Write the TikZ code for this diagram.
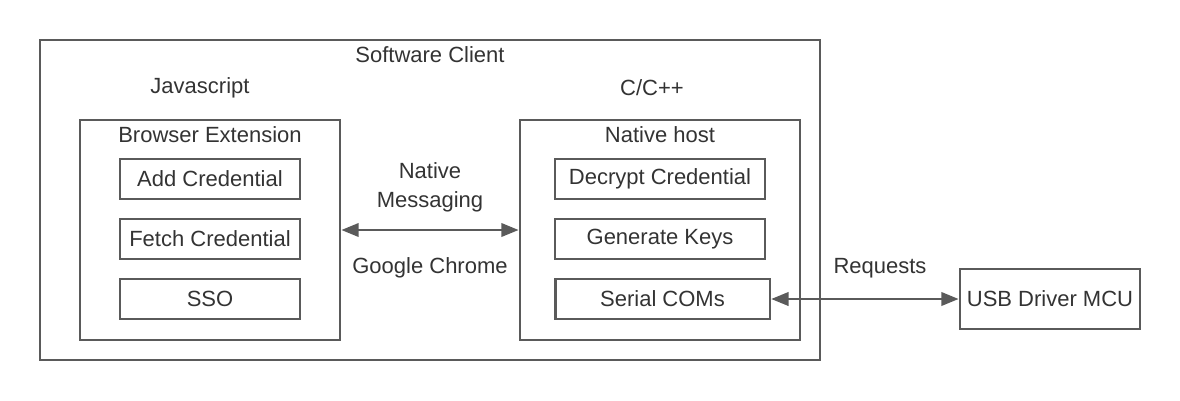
\documentclass[tikz,border=0pt]{standalone}
\usepackage{fontspec}
\setmainfont{Liberation Sans}
\usetikzlibrary{arrows.meta,positioning}
\definecolor{edge}{HTML}{5A5A5A}
\definecolor{ink}{HTML}{333333}

\begin{document}
\begin{tikzpicture}[
  x=0.75pt,y=-0.75pt,
  font=\fontsize{16.5}{20}\selectfont,text=ink,
  frame/.style={draw=edge,line width=2pt,inner sep=0pt},
  item/.style={frame,minimum width=135pt,minimum height=30pt},
  lbl/.style={align=center,text=ink},
  link/.style={{Triangle[length=13pt,width=10pt]}-{Triangle[length=13pt,width=10pt]},
               edge,line width=2pt}]
\useasboundingbox (0,0) rectangle (1180,400);
% outer client and the two containers
\node[frame,minimum width=585pt,minimum height=240pt] (client) at (430,200) {};
\node[lbl] (clientlbl) at (430,55) {Software Client};
\node[lbl] (js) at (200,88) {Javascript};
\node[lbl] (cpp) at (652,88) {C/C++};
\node[frame,minimum width=195pt,minimum height=165pt] (ext) at (210,230) {};
\node[lbl] (extlbl) at (210,135) {Browser Extension};
\node[frame,minimum width=210pt,minimum height=165pt] (host) at (660,230) {};
\node[lbl] (hostlbl) at (660,135) {Native host};
% extension functions
\node[item] (add) at (210,179) {Add Credential};
\node[item] (fetch) at (210,239) {Fetch Credential};
\node[item] (sso) at (210,299) {SSO};
% native host functions
\node[item,minimum width=157.5pt] (decrypt) at (660,179) {Decrypt Credential};
\node[item,minimum width=157.5pt] (keys) at (660,239) {Generate Keys};
\node[item,minimum width=161pt] (serial) at (662.5,299) {Serial COMs};
\node[item,minimum height=45pt] (usb) at (1050,299) {USB Driver MCU};
% connectors
\draw[link] (ext) -- (host);
\node[lbl] (nm) at (430,187) {Native\\[2pt]Messaging};
\node[lbl] (chrome) at (430,268) {Google Chrome};
\draw[link] (serial) -- (usb);
\node[lbl] (req) at (880,268) {Requests};
\end{tikzpicture}
\end{document}
